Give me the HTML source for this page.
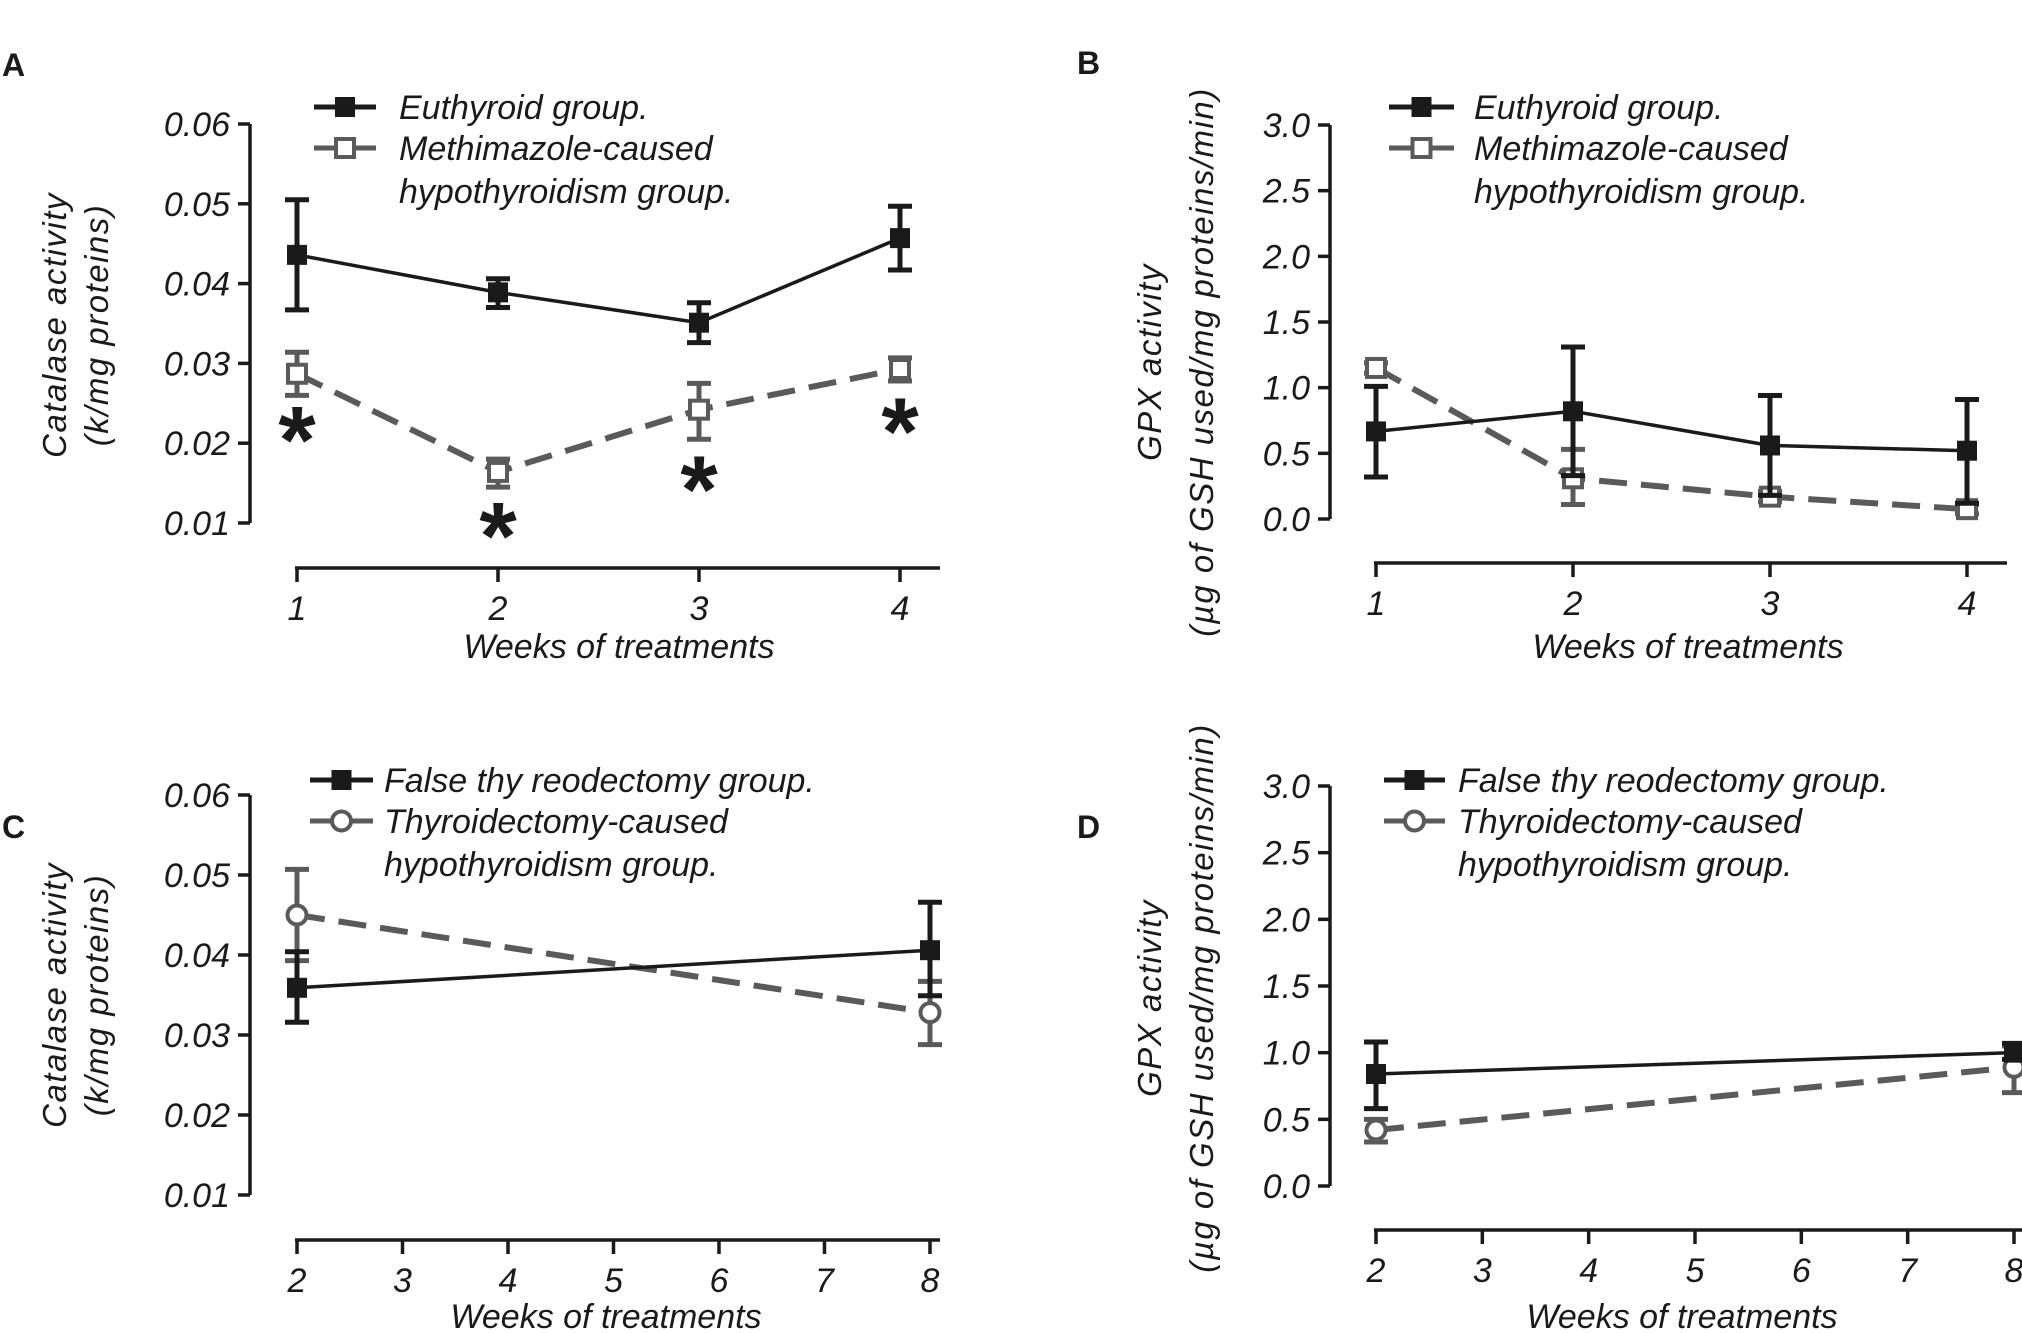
<!DOCTYPE html>
<html><head><meta charset="utf-8">
<style>
html,body{margin:0;padding:0;background:#fff;}
svg{display:block;}
text{font-family:"Liberation Sans",sans-serif;font-style:italic;fill:#1a1a1a;}
</style></head>
<body>
<svg id="fig" width="2022" height="1333" viewBox="0 0 2022 1333" xmlns="http://www.w3.org/2000/svg"></svg>
<script>
// Panel A data (catalase, methimazole)
const weeksAB = [1, 2, 3, 4];
const aEuMean = [0.0436, 0.0389, 0.0351, 0.0457];
const aEuHi = [0.0505, 0.0406, 0.0376, 0.0497];
const aEuLo = [0.0367, 0.0370, 0.0326, 0.0417];
const aMeMean = [0.0287, 0.0164, 0.0242, 0.0293];
const aMeHi = [0.0314, 0.0180, 0.0275, 0.0307];
const aMeLo = [0.0260, 0.0145, 0.0205, 0.0278];
const aStars = [0.0215, 0.0095, 0.0153, 0.0226];
const catTicks = [0.01, 0.02, 0.03, 0.04, 0.05, 0.06];
const catTickLabels = ["0.01", "0.02", "0.03", "0.04", "0.05", "0.06"];
// Panel B data (GPX, methimazole)
const bEuMean = [0.667, 0.82, 0.56, 0.52];
const bEuHi = [1.01, 1.31, 0.94, 0.91];
const bEuLo = [0.32, 0.33, 0.18, 0.12];
const bMeMean = [1.15, 0.31, 0.17, 0.075];
const bMeHi = [1.19, 0.53, 0.21, 0.11];
const bMeLo = [1.11, 0.11, 0.13, 0.04];
const gpxTicks = [0, 0.5, 1.0, 1.5, 2.0, 2.5, 3.0];
const gpxTickLabels = ["0.0", "0.5", "1.0", "1.5", "2.0", "2.5", "3.0"];
// Panel C data (catalase, thyroidectomy)
const weeksCD = [2, 8];
const weekTicksCD = [2, 3, 4, 5, 6, 7, 8];
const cFaMean = [0.0359, 0.0406];
const cFaHi = [0.0404, 0.0466];
const cFaLo = [0.0316, 0.0349];
const cThMean = [0.0450, 0.0328];
const cThHi = [0.0507, 0.0367];
const cThLo = [0.0393, 0.0288];
// Panel D data (GPX, thyroidectomy)
const dFaMean = [0.84, 1.0];
const dFaHi = [1.08, 1.07];
const dFaLo = [0.58, 0.95];
const dThMean = [0.42, 0.89];
const dThHi = [0.50, 1.05];
const dThLo = [0.33, 0.70];

const NS = "http://www.w3.org/2000/svg";
const svg = document.getElementById("fig");
function mk(tag, attrs, parent, txt){
  const e = document.createElementNS(NS, tag);
  for (const k in attrs) e.setAttribute(k, attrs[k]);
  if (txt !== undefined) e.textContent = txt;
  (parent || svg).appendChild(e);
  return e;
}
function lin(d0, d1, r0, r1){ return v => r0 + (v - d0) / (d1 - d0) * (r1 - r0); }

function marker(g, x, y, type, color){
  let m;
  if (type === "filled") m = mk("rect", {x:x-10, y:y-10, width:20, height:20, fill:"#1a1a1a"}, g);
  else if (type === "opensq") m = mk("rect", {x:x-9, y:y-9, width:18, height:18, fill:"#fff", stroke:color, "stroke-width":4}, g);
  else m = mk("circle", {cx:x, cy:y, r:9.5, fill:"#fff", stroke:color, "stroke-width":4}, g);
  return m;
}

function series(g, name, xs, mean, hi, lo, X, Y, color, dashed, mtype, sw){
  const sg = mk("g", {}, g);
  
  
  xs.forEach((w, i) => {
    const x = X(w);
    const eb = mk("path", {d:`M${x},${Y(hi[i])}V${Y(lo[i])}M${x-12},${Y(hi[i])}H${x+12}M${x-12},${Y(lo[i])}H${x+12}`, stroke:color, "stroke-width":5, fill:"none"}, sg);
    
    
  });
  const pts = xs.map((w, i) => X(w) + "," + Y(mean[i])).join(" ");
  const ln = mk("polyline", {points:pts, fill:"none", stroke:color, "stroke-width":sw, "stroke-dasharray": dashed ? "28,14" : "none"}, sg);
  
  
  xs.forEach((w, i) => {
    const m = marker(sg, X(w), Y(mean[i]), mtype, color);
    
    
  });
}

function panel(cfg){
  const g = mk("g", {});
  
  
  const Y = lin(cfg.yd[0], cfg.yd[1], cfg.yr[0], cfg.yr[1]);
  const X = lin(cfg.xd[0], cfg.xd[1], cfg.xr[0], cfg.xr[1]);
  const L = mk("text", {x:cfg.letter[0], y:cfg.letter[1], "font-size":32, "font-weight":"bold", style:"font-style:normal"}, g, cfg.letterTxt);
  
  
  const ya = mk("g", {}, g);
  
  
  mk("line", {x1:cfg.yAxisX, x2:cfg.yAxisX, y1:Y(cfg.yTicks[cfg.yTicks.length-1]), y2:Y(cfg.yTicks[0]), stroke:"#1a1a1a", "stroke-width":3.5}, ya);
  cfg.yTicks.forEach((t, i) => {
    mk("line", {x1:cfg.yAxisX-12, x2:cfg.yAxisX, y1:Y(t), y2:Y(t), stroke:"#1a1a1a", "stroke-width":3.5}, ya);
    const tl = mk("text", {x:cfg.yAxisX-20, y:Y(t)+12, "font-size":34, "text-anchor":"end"}, ya, cfg.yLabels[i]);
    
    
  });
  const xa = mk("g", {}, g);
  
  
  mk("line", {x1:cfg.xr[0]-2, x2:cfg.xEnd, y1:cfg.xAxisY, y2:cfg.xAxisY, stroke:"#1a1a1a", "stroke-width":3.5}, xa);
  cfg.xTicks.forEach(t => {
    mk("line", {x1:X(t), x2:X(t), y1:cfg.xAxisY, y2:cfg.xAxisY+14, stroke:"#1a1a1a", "stroke-width":3.5}, xa);
    const tl = mk("text", {x:X(t), y:cfg.xAxisY+52, "font-size":34, "text-anchor":"middle"}, xa, String(t));
    
    
  });
  const xt = mk("text", {x:cfg.xTitle[0], y:cfg.xTitle[1], "font-size":34, "text-anchor":"middle"}, g, "Weeks of treatments");
  
  
  const yt = mk("g", {transform:`translate(${cfg.yTitle[0]},${cfg.yTitle[1]}) rotate(-90)`}, g);
  
  
  mk("text", {x:0, y:0, "font-size":33, "text-anchor":"middle", "letter-spacing":1.5}, yt, cfg.yTitleTxt[0]);
  mk("text", {x:0, y:cfg.yTitleGap, "font-size":33, "text-anchor":"middle", "letter-spacing":1.5}, yt, cfg.yTitleTxt[1]);
  series(g, cfg.s2.name, cfg.xs, cfg.s2.mean, cfg.s2.hi, cfg.s2.lo, X, Y, "#5a5a5a", true, cfg.s2.marker, 6);
  series(g, cfg.s1.name, cfg.xs, cfg.s1.mean, cfg.s1.hi, cfg.s1.lo, X, Y, "#1a1a1a", false, "filled", 3.5);
  if (cfg.stars) {
    cfg.stars.forEach((s, i) => {
      const st = mk("text", {x:X(cfg.xs[i]), y:Y(s)+42, "font-size":96, "font-weight":"bold", "text-anchor":"middle", style:"font-style:normal"}, g, "*");
      
      
    });
  }
  const lg = mk("g", {}, g);
  
  
  const [lx0, lx1, ly, tx] = cfg.legend;
  const e1 = mk("g", {}, lg);
  
  
  mk("line", {x1:lx0, x2:lx1, y1:ly, y2:ly, stroke:"#1a1a1a", "stroke-width":5}, e1);
  marker(e1, (lx0+lx1)/2, ly, "filled", "#1a1a1a");
  mk("text", {x:tx, y:ly+12, "font-size":34}, e1, cfg.s1.label);
  const e2 = mk("g", {}, lg);
  
  
  mk("line", {x1:lx0, x2:lx1, y1:ly+41, y2:ly+41, stroke:"#5a5a5a", "stroke-width":5}, e2);
  marker(e2, (lx0+lx1)/2, ly+41, cfg.s2.marker, "#5a5a5a");
  mk("text", {x:tx, y:ly+53, "font-size":34}, e2, cfg.s2.label[0]);
  mk("text", {x:tx, y:ly+96, "font-size":34}, e2, cfg.s2.label[1]);
}

panel({id:"panel-a", letterTxt:"A", letter:[2,76], yd:[0.06,0.01], yr:[124,523], xd:[1,4], xr:[297,900], xs:weeksAB, xTicks:weeksAB,
  yTicks:catTicks, yLabels:catTickLabels, yAxisX:250, xAxisY:568, xEnd:940, xTitle:[619,658], yTitle:[66,325], yTitleGap:42,
  yTitleTxt:["Catalase activity","(k/mg proteins)"],
  s1:{name:"euthyroid-series", label:"Euthyroid group.", mean:aEuMean, hi:aEuHi, lo:aEuLo},
  s2:{name:"methimazole-series", label:["Methimazole-caused","hypothyroidism group."], mean:aMeMean, hi:aMeHi, lo:aMeLo, marker:"opensq"},
  stars:aStars, legend:[314,376,107,399]});
panel({id:"panel-b", letterTxt:"B", letter:[1077,74], yd:[3,0], yr:[125,519], xd:[1,4], xr:[1376,1967], xs:weeksAB, xTicks:weeksAB,
  yTicks:gpxTicks, yLabels:gpxTickLabels, yAxisX:1330, xAxisY:563, xEnd:2007, xTitle:[1688,658], yTitle:[1161,362], yTitleGap:52,
  yTitleTxt:["GPX activity","(µg of GSH used/mg proteins/min)"],
  s1:{name:"euthyroid-series", label:"Euthyroid group.", mean:bEuMean, hi:bEuHi, lo:bEuLo},
  s2:{name:"methimazole-series", label:["Methimazole-caused","hypothyroidism group."], mean:bMeMean, hi:bMeHi, lo:bMeLo, marker:"opensq"},
  legend:[1389,1454,107,1474]});
panel({id:"panel-c", letterTxt:"C", letter:[2,838], yd:[0.06,0.01], yr:[795,1195], xd:[2,8], xr:[297,930], xs:weeksCD, xTicks:weekTicksCD,
  yTicks:catTicks, yLabels:catTickLabels, yAxisX:250, xAxisY:1240, xEnd:940, xTitle:[606,1328], yTitle:[66,995], yTitleGap:42,
  yTitleTxt:["Catalase activity","(k/mg proteins)"],
  s1:{name:"false-thyroidectomy-series", label:"False thy reodectomy group.", mean:cFaMean, hi:cFaHi, lo:cFaLo},
  s2:{name:"thyroidectomy-series", label:["Thyroidectomy-caused","hypothyroidism group."], mean:cThMean, hi:cThHi, lo:cThLo, marker:"circle"},
  legend:[310,373,780,384]});
panel({id:"panel-d", letterTxt:"D", letter:[1077,838], yd:[3,0], yr:[786,1186], xd:[2,8], xr:[1376,2014], xs:weeksCD, xTicks:weekTicksCD,
  yTicks:gpxTicks, yLabels:gpxTickLabels, yAxisX:1330, xAxisY:1230, xEnd:2022, xTitle:[1682,1328], yTitle:[1161,998], yTitleGap:52,
  yTitleTxt:["GPX activity","(µg of GSH used/mg proteins/min)"],
  s1:{name:"false-thyroidectomy-series", label:"False thy reodectomy group.", mean:dFaMean, hi:dFaHi, lo:dFaLo},
  s2:{name:"thyroidectomy-series", label:["Thyroidectomy-caused","hypothyroidism group."], mean:dThMean, hi:dThHi, lo:dThLo, marker:"circle"},
  legend:[1384,1445,780,1458]});
</script>
</body></html>
